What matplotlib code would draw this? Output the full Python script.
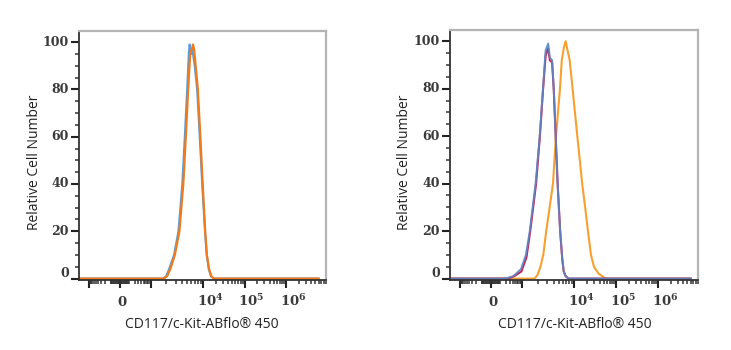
"""Two flow cytometry histograms (CD117/c-Kit-ABflo 450), negative vs positive cells"""

import numpy as np
import matplotlib
matplotlib.use("Agg")
import matplotlib.pyplot as plt
from matplotlib.transforms import blended_transform_factory, offset_copy

# ---- data (fluorescence intensity, relative cell number) ----
# left panel: negative cells, both curves sit on top of each other
left_blue_x = [-1600, 1720, 1990, 2250, 2800, 3400, 4030, 4500, 4990, 5390, 5560,
               6000, 6250, 6960, 7740, 8680, 9660, 11200, 12300, 13800, 15600,
               18000, 6e6]
left_blue_y = [0, 0, 1, 4, 10, 20, 40, 60, 80, 96, 99, 95, 97, 90, 80, 60, 40, 20,
               10, 4, 1, 0, 0]

left_orange_x = [-1600, 1790, 2060, 2380, 2900, 3550, 4210, 4700, 5210, 5740, 6180,
                 6440, 6760, 7110, 7980, 8910, 9870, 11300, 12400, 14000, 15800,
                 18300, 6e6]
left_orange_y = [0, 0, 1, 4, 10, 20, 40, 60, 80, 96, 97, 99, 97, 92, 80, 60, 40, 20,
                 10, 4, 1, 0, 0]

# right panel: blank (red), isotype (blue), stained (orange)
right_red_x = [-1600, 262, 470, 950, 1220, 1440, 1860, 2200, 2530, 2830, 3160, 3400,
               3750, 4030, 4390, 4780, 5340, 5870, 6250, 6800, 7700, 6e6]
right_red_y = [0, 0, 1, 3, 9, 20, 40, 60, 80, 94, 97, 92, 91, 80, 60, 40, 20, 8, 3,
               1, 0, 0]

right_blue_x = [-1600, 192, 428, 913, 1190, 1410, 1820, 2180, 2520, 2820, 3160, 3400,
                3750, 4030, 4390, 4780, 5340, 5870, 6250, 6800, 7700, 6e6]
right_blue_y = [0, 0, 1, 4, 10, 20, 40, 60, 80, 96, 99, 93, 92, 80, 60, 40, 20, 8, 3,
                1, 0, 0]

right_orange_x = [-1600, 1740, 1980, 2250, 2550, 2900, 3370, 3900, 4450, 5300, 5740,
                  6250, 6800, 7400, 8100, 9200, 11700, 15300, 18000, 21000, 24800,
                  29200, 38100, 55500, 6e6]
right_orange_y = [0, 0, 1.5, 5, 10, 20, 30, 40, 60, 80, 92, 97, 100, 96, 92, 80, 60,
                  40, 30, 20, 10, 5, 2, 0, 0]

y_ticks = [0, 20, 40, 60, 80, 100]
x_major = [-1e3, 0, 1e3, 1e4, 1e5, 1e6]
x_labels = {0: "0", 1e4: r"$\mathbf{10^{4}}$", 1e5: r"$\mathbf{10^{5}}$",
            1e6: r"$\mathbf{10^{6}}$"}

# ---- biexponential-like axis (piecewise in asinh space) ----
ANCH_X = np.array([-1e4, -1e3, 0, 1e3, 1e4, 1e5, 1e6, 1e7])
ANCH_P = np.array([-86, -32, 0, 32, 86, 129, 172, 215])
ANCH_U = np.arcsinh(ANCH_X / 100)


def fwd(x):
    return np.interp(np.arcsinh(np.asarray(x, dtype=float) / 100), ANCH_U, ANCH_P)


def inv(p):
    return 100 * np.sinh(np.interp(np.asarray(p, dtype=float), ANCH_P, ANCH_U))


def minor_ticks():
    ticks = []
    for k in (0, 1, 2):
        for m in range(1, 10):
            ticks += [m * 10 ** k, -m * 10 ** k]
    for k in (3, 4, 5, 6):
        for m in range(2, 10):
            ticks.append(m * 10 ** k)
    return sorted(ticks)


plt.rcParams["mathtext.fontset"] = "custom"
plt.rcParams["mathtext.rm"] = "DejaVu Serif:bold"
plt.rcParams["mathtext.bf"] = "DejaVu Serif:bold"
plt.rcParams["mathtext.it"] = "DejaVu Serif:bold"

serif = {"family": "DejaVu Serif", "weight": "bold", "size": 9, "color": "#3a3a3a"}
sans = {"family": ["Open Sans", "DejaVu Sans"], "size": 10, "color": "#222222"}


def style_axes(fig, ax):
    ax.set_xscale("function", functions=(fwd, inv))
    ax.set_xlim(inv(-42), inv(205))
    ax.set_ylim(-0.6, 104.7)

    ax.set_xticks(x_major)
    ax.set_xticklabels([""] * len(x_major))
    ax.set_xticks(minor_ticks(), minor=True)
    ax.set_yticks(y_ticks)
    ax.set_yticks(np.arange(0, 105, 5), minor=True)
    ax.set_yticklabels([])

    ax.tick_params(axis="both", which="major", direction="out", length=5.5,
                   width=1.5, color="#222222", pad=3)
    ax.tick_params(axis="both", which="minor", direction="out", length=3,
                   width=1.1, color="#333333")

    for side in ("left", "bottom"):
        ax.spines[side].set_color("#333333")
        ax.spines[side].set_linewidth(1.3)
    for side in ("top", "right"):
        ax.spines[side].set_color("#b4b4b4")
        ax.spines[side].set_linewidth(1.6)

    # y tick labels, the "0" sits a little higher than its tick
    ybase = blended_transform_factory(ax.transAxes, ax.transData)
    for yv in y_ticks:
        dy = 5 if yv == 0 else 0
        tr = offset_copy(ybase, fig=fig, x=-10, y=dy, units="dots")
        ax.text(0, yv, str(yv), transform=tr, ha="right", va="center", **serif)

    # x tick labels drawn by hand so the powers can hang to the right of the tick
    xbase = blended_transform_factory(ax.transData, ax.transAxes)
    for xv, txt in x_labels.items():
        dx = 2 if xv == 0 else 7
        tr = offset_copy(xbase, fig=fig, x=dx, y=-26, units="dots")
        ax.text(xv, 0, txt, transform=tr, ha="center", va="baseline",
                **dict(serif, size=9.5))


fig = plt.figure(figsize=(7.31, 3.5), dpi=100)
ax1 = fig.add_axes([79 / 731, 70 / 350, 247 / 731, 249 / 350])
ax2 = fig.add_axes([450 / 731, 70 / 350, 248 / 731, 250 / 350])

style_axes(fig, ax1)
style_axes(fig, ax2)

ax1.plot(left_blue_x, left_blue_y, color="#5b9bd8", lw=1.5)
ax1.plot(left_orange_x, left_orange_y, color="#f07a1c", lw=1.6)

ax2.plot(right_orange_x, right_orange_y, color="#f7a030", lw=1.5)
ax2.plot(right_red_x, right_red_y, color="#c8264e", lw=1.5)
ax2.plot(right_blue_x, right_blue_y, color="#5a86c8", lw=1.4, alpha=0.9)

for cx, cy in ((35, 162), (405, 162)):
    fig.text(cx / 731, 1 - cy / 350, "Relative Cell Number", rotation=90,
             ha="center", va="center", **sans)
for cx in (202, 575):
    fig.text(cx / 731, 1 - 324 / 350, "CD117/c-Kit-ABflo® 450",
             ha="center", va="center", **sans)

fig.savefig("out.png", dpi=100)
